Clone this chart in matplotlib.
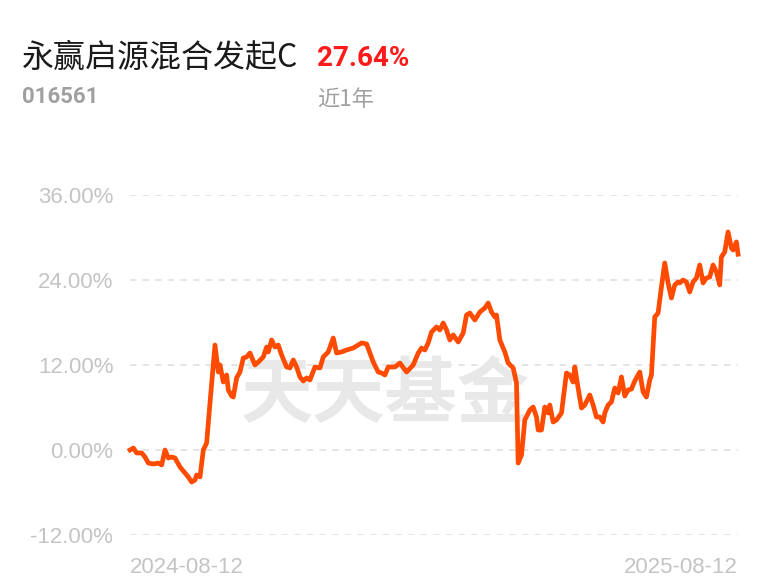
import matplotlib
matplotlib.use('Agg')
import matplotlib.pyplot as plt

plt.rcParams['font.family'] = ['Liberation Sans', 'Noto Sans CJK SC', 'DejaVu Sans']

# data: days since 2024-08-12, cumulative return in %
days = [0, 2, 4, 7, 9, 11, 14, 17, 19, 21, 23, 25, 27, 30, 33, 35, 37, 39, 40, 42,
        44, 46, 48, 51, 53, 54, 56, 58, 59, 61, 62, 64, 66, 68, 70, 72, 75, 77, 80,
        82, 83, 85, 87, 89, 91, 94, 96, 98, 100, 102, 104, 106, 108, 111, 114, 116,
        119, 122, 124, 127, 130, 134, 137, 139, 142, 144, 146, 149, 151, 153, 155,
        159, 162, 166, 170, 173, 175, 177, 179, 181, 184, 186, 188, 190, 192, 194,
        197, 200, 202, 204, 207, 210, 213, 215, 217, 219, 220, 222, 225, 227, 230,
        232, 233, 235, 237, 240, 242, 244, 245, 247, 249, 251, 252, 254, 256, 259,
        262, 264, 266, 267, 269, 271, 273, 276, 278, 280, 282, 284, 285, 287, 289,
        291, 293, 295, 297, 299, 301, 303, 306, 308, 310, 312, 313, 315, 317, 319,
        321, 323, 325, 327, 329, 330, 332, 334, 336, 338, 340, 342, 344, 346, 348,
        350, 352, 354, 355, 357, 359, 361, 362, 364, 365]
returns = [0.00, 0.28, -0.42, -0.42, -0.99, -1.84, -1.98, -1.84, -2.12, 0.00, -1.13,
           -0.99, -1.13, -2.40, -3.25, -3.81, -4.52, -4.24, -3.53, -3.81,
           0.00, 0.99, 6.64, 14.82, 11.01, 12.00, 9.60, 10.59, 8.47, 7.62, 7.48,
           10.17, 11.01, 12.99, 13.13, 13.69, 12.00, 12.42, 13.13,
           14.54, 13.84, 15.53, 14.54, 14.82, 13.41, 11.72, 11.58, 12.71, 11.72,
           10.31, 9.74, 10.17, 9.88, 11.72, 11.58, 13.13,
           13.84, 15.81, 13.69, 13.84, 14.12, 14.40, 14.82, 15.11, 14.97, 13.69,
           12.42, 11.01, 10.87, 10.59, 11.72,
           11.72, 12.28, 11.01, 12.00, 13.69, 14.40, 14.12, 15.11, 16.66, 17.37,
           16.94, 17.93, 16.94, 15.53, 16.24,
           15.25, 16.52, 19.06, 19.34, 18.35, 19.48, 20.05, 20.75, 19.48, 18.78,
           19.06, 15.53, 13.84, 12.28, 11.58,
           9.46, -1.84, -0.71, 4.24, 5.65, 6.07, 4.66, 2.82, 2.82, 6.07, 5.22, 6.35,
           3.95, 4.24, 5.22,
           10.87, 10.59, 9.60, 11.72, 8.75, 5.93, 6.35, 7.77, 6.35, 4.66, 4.66, 3.95,
           5.22, 6.35, 6.78,
           8.75, 8.05, 10.31, 7.62, 8.47, 8.61, 9.74, 11.01, 8.19, 7.48, 9.88, 10.59,
           18.78, 19.34, 23.01,
           26.40, 23.58, 21.46, 23.30, 23.72, 23.58, 24.00, 23.72, 22.31, 23.72,
           24.28, 26.12, 23.58, 24.28, 24.42,
           26.12, 25.13, 23.30, 27.25, 27.95, 30.78, 28.52, 28.24, 29.37, 27.64]

y_ticks = [-12, 0, 12, 24, 36]
x_ticks = [0, 365]
x_labels = ['2024-08-12', '2025-08-12']

fund_name = '永赢启源混合发起C'
fund_code = '016561'
period = '近1年'
total_return = '27.64%'

fig = plt.figure(figsize=(7.68, 5.87), dpi=100)
ax = fig.add_axes([0.1693, 0.0886, 0.7917, 0.5792])

# watermark behind the line
ax.text(0.42, 0.41, '天天基金', transform=ax.transAxes, ha='center', va='center',
        fontsize=52, fontweight='bold', color='#e8e8e8',
        family=['Noto Sans CJK SC', 'DejaVu Sans'], zorder=1)

ax.plot(days, returns, color='#ff4b00', lw=3.4, solid_joinstyle='round', zorder=3,
        clip_on=False)

ax.set_xlim(0, 365)
ax.set_ylim(-12, 36)
ax.set_yticks(y_ticks)
ax.set_yticklabels(['{:.2f}%'.format(v) for v in y_ticks])
ax.set_xticks(x_ticks)
ax.set_xticklabels(x_labels)
for lab, ha in zip(ax.get_xticklabels(), ['left', 'right']):
    lab.set_horizontalalignment(ha)

for v in y_ticks:
    ax.axhline(v, color='#e3e3e3', lw=1.3, ls=(0, (3.5, 3.5)), zorder=0)

for s in ax.spines.values():
    s.set_visible(False)
ax.tick_params(axis='y', length=0, pad=12, labelsize=16, labelcolor='#c4c4c4')
ax.tick_params(axis='x', length=0, pad=16, labelsize=16, labelcolor='#c4c4c4')

# header
fig.text(22 / 768, 1 - 58 / 587, fund_name, fontsize=23, color='#1a1a1a',
         va='center', ha='left', family=['Noto Sans CJK SC', 'DejaVu Sans'])
fig.text(317 / 768, 1 - 58 / 587, total_return, fontsize=20, color='#ff1a1a',
         va='center', ha='left', fontweight='bold', family=['Roboto', 'DejaVu Sans'])
fig.text(22 / 768, 1 - 97 / 587, fund_code, fontsize=16, color='#a0a0a0',
         va='center', ha='left', fontweight='bold', family=['Roboto', 'DejaVu Sans'])
fig.text(317 / 768, 1 - 100 / 587, period, fontsize=16, color='#a0a0a0',
         va='center', ha='left', family=['Noto Sans CJK SC', 'DejaVu Sans'])

fig.savefig('out.png', dpi=100)
